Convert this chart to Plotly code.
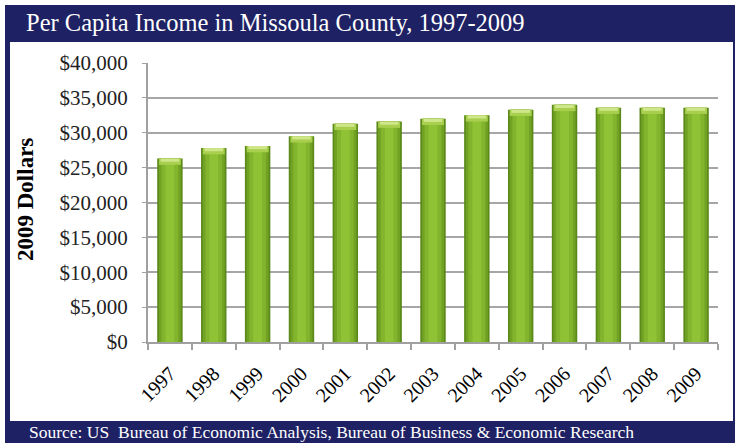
import plotly.graph_objects as go

# Per capita income, Missoula County (2009 dollars)
years = ["1997", "1998", "1999", "2000", "2001", "2002", "2003",
         "2004", "2005", "2006", "2007", "2008", "2009"]
income = [26300, 27800, 28100, 29500, 31300, 31600, 32000,
          32500, 33300, 34000, 33600, 33600, 33600]
y_ticks = [0, 5000, 10000, 15000, 20000, 25000, 30000, 35000, 40000]
y_tick_text = ["$0", "$5,000", "$10,000", "$15,000", "$20,000",
               "$25,000", "$30,000", "$35,000", "$40,000"]

title_text = "Per Capita Income in Missoula County, 1997-2009"
source_text = "Source: US  Bureau of Economic Analysis, Bureau of Business &amp; Economic Research"
y_title = "2009 Dollars"

W, H = 735, 443
L, R, T, B = 148, 17, 63, 101
NAVY = "#1e2163"
SERIF = "Liberation Serif"


def px2x(px):
    return (px - L) / (W - L - R)


def py2y(py):
    return (H - B - py) / (H - T - B)


fig = go.Figure()

# Layered bars give the rounded, shaded column look
body_layers = [
    (0.58, "#5b8a1b"),
    (0.50, "#72a224"),
    (0.38, "#82b42d"),
    (0.20, "#90c236"),
]
for width, color in body_layers:
    fig.add_trace(go.Bar(x=years, y=income, width=width,
                         marker=dict(color=color, line=dict(width=0)),
                         hoverinfo="skip", showlegend=False))

# Light top caps
cap_layers = [
    (900, 0.50, "#a9cf4e"),
    (450, 0.42, "#cfe68a"),
]
for depth, width, color in cap_layers:
    fig.add_trace(go.Bar(x=years, y=[depth] * len(income),
                         base=[v - depth for v in income], width=width,
                         marker=dict(color=color, line=dict(width=0)),
                         hoverinfo="skip", showlegend=False))

shapes = [
    # navy frame with title and source bands
    dict(type="rect", xref="paper", yref="paper", layer="below",
         x0=px2x(5), x1=px2x(735), y0=py2y(443), y1=py2y(5),
         fillcolor=NAVY, line=dict(width=0)),
    dict(type="rect", xref="paper", yref="paper", layer="below",
         x0=px2x(10), x1=px2x(733), y0=py2y(421), y1=py2y(42),
         fillcolor="white", line=dict(width=0)),
]

annotations = [
    dict(text=title_text, xref="paper", yref="paper",
         x=px2x(24), y=py2y(23), xanchor="left", yanchor="middle",
         showarrow=False, font=dict(family=SERIF, size=24.5, color="white")),
    dict(text=source_text, xref="paper", yref="paper",
         x=px2x(27), y=py2y(432), xanchor="left", yanchor="middle",
         showarrow=False, font=dict(family=SERIF, size=17.5, color="white")),
    dict(text="<b>" + y_title + "</b>", xref="paper", yref="paper",
         x=px2x(25), y=py2y(200), xanchor="center", yanchor="middle",
         textangle=-90, showarrow=False,
         font=dict(family=SERIF, size=23, color="black")),
]

fig.update_layout(
    width=W, height=H,
    margin=dict(l=L, r=R, t=T, b=B),
    paper_bgcolor="white", plot_bgcolor="rgba(0,0,0,0)",
    barmode="overlay", bargap=0.4,
    shapes=shapes, annotations=annotations,
    showlegend=False,
)

fig.update_xaxes(
    type="category", tickangle=-45,
    showline=True, linecolor="#a0a0a0", linewidth=2,
    ticks="outside", ticklen=6, tickcolor="#a0a0a0", tickwidth=1.5,
    tickson="boundaries", showgrid=False, ticklabelstandoff=10,
    tickfont=dict(family=SERIF, size=20, color="black"),
)
fig.update_yaxes(
    range=[0, 40000], tickvals=y_ticks, ticktext=y_tick_text,
    showline=True, linecolor="#a0a0a0", linewidth=2,
    ticks="outside", ticklen=4, tickcolor="#a0a0a0",
    showgrid=True, gridcolor="#a6a6a6", gridwidth=2,
    zeroline=False, ticklabelstandoff=10,
    tickfont=dict(family=SERIF, size=21, color="#222222"),
)

fig.write_html("out.html")
